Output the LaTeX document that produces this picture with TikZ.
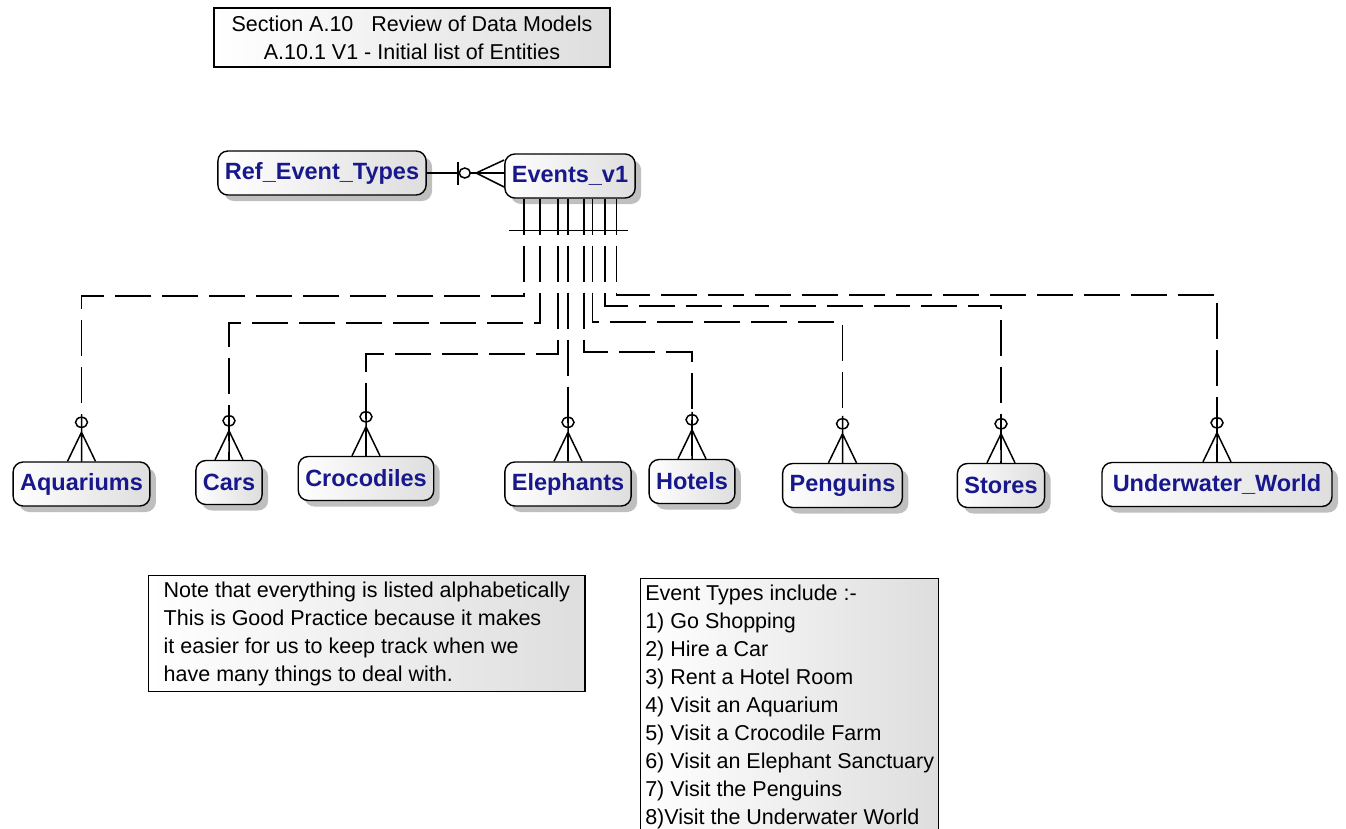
\documentclass[tikz,border=0pt]{standalone}
\usepackage{fontspec}
\setmainfont{Liberation Sans}
\usetikzlibrary{calc,shadows}
\definecolor{entblue}{RGB}{24,24,140}

\begin{document}
\begin{tikzpicture}[x=1pt,y=-1pt,
 ent/.style={draw=black,line width=1.4pt,rounded corners=10pt,left color=white,right color=black!13,
  font=\fontsize{23.5}{28}\selectfont\bfseries,text=entblue,inner xsep=7pt,inner ysep=0pt,minimum height=44pt,
  drop shadow={shadow xshift=6pt,shadow yshift=-6pt,opacity=0.25,fill=black}},
 notebox/.style={draw=black,line width=1.4pt,left color=white,right color=black!13,align=left,
  font=\fontsize{21.5}{28}\selectfont,inner ysep=6pt},
 rel/.style={line width=1.6pt,dash pattern=on 36pt off 11pt},
 endln/.style={line width=1.5pt}]
\useasboundingbox (0,0) rectangle (1346,828);
\clip (0,0) rectangle (1346,828);
\node[notebox,align=center,minimum width=396pt,minimum height=59pt,inner ysep=2pt] (title) at (412,37.5)
 {Section A.10\ \ \ Review of Data Models\\A.10.1 V1 - Initial list of Entities};
\node[ent] (ref) at (322,173) {Ref\_Event\_Types};
\node[ent] (ev) at (570,176) {Events\_v1};
\node[ent] (aqu) at (81.5,484) {Aquariums};
\node[ent] (cars) at (229,482.5) {Cars};
\node[ent] (croc) at (366,478.5) {Crocodiles};
\node[ent] (eleph) at (568,484) {Elephants};
\node[ent] (hot) at (692,481.5) {Hotels};
\node[ent] (peng) at (842.5,485.5) {Penguins};
\node[ent] (stor) at (1001,485.5) {Stores};
\node[ent,minimum width=230pt] (uw) at (1217,484.5) {Underwater\_World};
\node[notebox,anchor=north west,inner xsep=15pt] (note) at (148,575)
 {Note that everything is listed alphabetically\\This is Good Practice because it makes\\
 it easier for us to keep track when we\\have many things to deal with.};
\node[notebox,anchor=north west,inner xsep=2pt,minimum width=298pt] (types) at (640,578)
 {Event Types include :-\\1) Go Shopping\\2) Hire a Car\\3) Rent a Hotel Room\\4) Visit an Aquarium\\
 5) Visit a Crocodile Farm\\6) Visit an Elephant Sanctuary\\7) Visit the Penguins\\8)Visit the Underwater World};
\draw[endln] (ref.east) -- (ref.east -| ev.west);
\draw[endln] ($(ref.east)+(31,-11)$) -- ($(ref.east)+(31,12)$);
\draw[endln,fill=white] ($(ref.east)+(38,0)$) ellipse [x radius=5.5,y radius=5];
\draw[endln] ($(ref.east -| ev.west)+(0,-13)$) -- ($(ref.east -| ev.west)+(-28,0)$)
 -- ($(ref.east -| ev.west)+(0,14)$);
\foreach \n/\xt/\yh in {aqu/524/296,cars/540/323,croc/558/354,eleph/568/330,
 hot/584/352,peng/592.5/322,stor/605/306,uw/616.5/295}{
 \draw[rel] (\xt,0 |- ev.south) -- (\xt,\yh) -| (\n.north);
 \draw[endln] ($(\n.north)+(0,-47)$) -- (\n.north)
  ($(\n.north)+(-14,0)$) -- ($(\n.north)+(0,-29)$) -- ($(\n.north)+(14,0)$);
 \draw[endln] ($(\n.north)+(0,-39)$) ellipse [x radius=6,y radius=5];
}
\draw[endln] ($(ev.south)+(-61,32)$) -- ($(ev.south)+(58,32)$);
\end{tikzpicture}
\end{document}
